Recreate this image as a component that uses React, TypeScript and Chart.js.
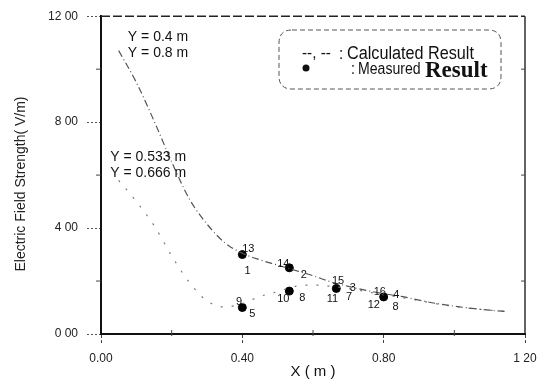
import React, { useEffect, useRef } from "react";
import { Chart, registerables } from "chart.js";

Chart.register(...registerables);

// Calculated curves (x in m, E in V/m)
const calcX = [0.05, 0.10, 0.15, 0.20, 0.25, 0.30, 0.35, 0.40, 0.45, 0.50, 0.55, 0.60, 0.65, 0.70, 0.75, 0.80, 0.85, 0.90, 0.95, 1.00, 1.05, 1.10, 1.15];
const upperY = [10.7, 9.5, 8.05, 6.5, 5.1, 4.15, 3.45, 3.05, 2.8, 2.6, 2.4, 2.2, 1.97, 1.8, 1.65, 1.52, 1.42, 1.28, 1.15, 1.05, 0.97, 0.9, 0.85];
const lowerY = [5.8, 5.0, 4.1, 2.95, 1.95, 1.25, 1.02, 1.15, 1.42, 1.6, 1.8, 1.85, 1.8, 1.72, 1.6, 1.48, 1.38, 1.26, 1.14, 1.04, 0.96, 0.9, 0.85];

// Measured points
const measX = [0.4, 0.533, 0.666, 0.8, 0.4, 0.533];
const measY = [3.0, 2.5, 1.72, 1.4, 1.0, 1.62];

// Point number labels
const labelText = ["13", "1", "14", "2", "10", "8", "9", "5", "15", "11", "3", "7", "16", "12", "4", "8"];
const labelX = [0.417, 0.415, 0.516, 0.574, 0.516, 0.570, 0.391, 0.428, 0.671, 0.655, 0.713, 0.702, 0.789, 0.772, 0.836, 0.834];
const labelY = [3.21, 2.37, 2.65, 2.24, 1.34, 1.37, 1.22, 0.77, 2.0, 1.34, 1.75, 1.40, 1.57, 1.09, 1.46, 1.02];

// Curve annotations
const noteText = ["Y = 0.4 m", "Y = 0.8 m", "Y = 0.533 m", "Y = 0.666 m"];
const noteX = [0.076, 0.076, 0.026, 0.026];
const noteY = [11.21, 10.59, 6.69, 6.09];

// Tick labels
const xTickValues = [0, 0.4, 0.8, 1.2];
const xTickLabels = ["0.00", "0.40", "0.80", "1 20"];
const yTickValues = [0, 4, 8, 12];
const yTickLabels = ["0 00", "4 00", "8 00", "12 00"];

const yTitle = "Electric Field Strength( V/m)";
const xTitle = "X ( m )";

const SANS = "'Liberation Sans', Arial, sans-serif";

const isMajor = (vals: number[], v: number) => vals.some((m) => Math.abs(m - v) < 1e-6);

function condensed(ctx: any, text: string, x: number, y: number, sx: number) {
  ctx.save();
  ctx.translate(x, y);
  ctx.scale(sx, 1);
  ctx.fillText(text, 0, 0);
  ctx.restore();
}

const decorPlugin = {
  id: "decor",
  afterDatasetsDraw(chart: any) {
    const ctx = chart.ctx;
    const { left, right, top, bottom } = chart.chartArea;
    const xs = chart.scales.x;
    const ys = chart.scales.y;
    ctx.save();
    // top border (dashed) and right border
    ctx.strokeStyle = "#222";
    ctx.lineWidth = 1.4;
    ctx.setLineDash([9, 3]);
    ctx.beginPath();
    ctx.moveTo(left, top);
    ctx.lineTo(right, top);
    ctx.stroke();
    ctx.setLineDash([]);
    ctx.beginPath();
    ctx.moveTo(right, top);
    ctx.lineTo(right, bottom);
    ctx.stroke();
    // minor ticks
    ctx.lineWidth = 1;
    ctx.strokeStyle = "#444";
    [2, 6, 10].forEach((v) => {
      const py = ys.getPixelForValue(v);
      ctx.beginPath();
      ctx.moveTo(left - 5, py);
      ctx.lineTo(left, py);
      ctx.stroke();
      ctx.beginPath();
      ctx.moveTo(right - 4, py);
      ctx.lineTo(right, py);
      ctx.stroke();
    });
    [0.2, 0.6, 1.0].forEach((v) => {
      const px = xs.getPixelForValue(v);
      ctx.beginPath();
      ctx.moveTo(px, bottom - 4);
      ctx.lineTo(px, bottom + 2);
      ctx.stroke();
    });
    // point number labels
    ctx.fillStyle = "#111";
    ctx.font = `11px ${SANS}`;
    ctx.textAlign = "center";
    ctx.textBaseline = "middle";
    labelText.forEach((t, i) => {
      ctx.fillText(t, xs.getPixelForValue(labelX[i]), ys.getPixelForValue(labelY[i]));
    });
    // curve annotations
    ctx.font = `14px ${SANS}`;
    ctx.textAlign = "left";
    noteText.forEach((t, i) => {
      ctx.fillText(t, xs.getPixelForValue(noteX[i]), ys.getPixelForValue(noteY[i]));
    });
    // legend box
    const bx = 279, by = 30, bw = 222, bh = 59, r = 13;
    ctx.strokeStyle = "#555";
    ctx.lineWidth = 1;
    ctx.setLineDash([5, 3]);
    ctx.beginPath();
    ctx.moveTo(bx + r, by);
    ctx.lineTo(bx + bw - r, by);
    ctx.quadraticCurveTo(bx + bw, by, bx + bw, by + r);
    ctx.lineTo(bx + bw, by + bh - r);
    ctx.quadraticCurveTo(bx + bw, by + bh, bx + bw - r, by + bh);
    ctx.lineTo(bx + r, by + bh);
    ctx.quadraticCurveTo(bx, by + bh, bx, by + bh - r);
    ctx.lineTo(bx, by + r);
    ctx.quadraticCurveTo(bx, by, bx + r, by);
    ctx.stroke();
    ctx.setLineDash([]);
    ctx.fillStyle = "#111";
    ctx.textBaseline = "middle";
    ctx.font = `17px ${SANS}`;
    condensed(ctx, "--, --", 302, 53, 0.9);
    condensed(ctx, ":", 339, 54, 0.9);
    ctx.font = `18px ${SANS}`;
    condensed(ctx, "Calculated Result", 347, 54, 0.9);
    ctx.beginPath();
    ctx.arc(306, 68, 3.5, 0, Math.PI * 2);
    ctx.fill();
    ctx.font = `16px ${SANS}`;
    condensed(ctx, ":", 351, 70, 0.88);
    condensed(ctx, "Measured", 358, 70, 0.88);
    ctx.font = `bold 23px 'Liberation Serif', 'Times New Roman', serif`;
    ctx.fillText("Result", 425, 71);
    // y axis title
    ctx.save();
    ctx.translate(21, 184);
    ctx.rotate(-Math.PI / 2);
    ctx.textAlign = "center";
    ctx.font = `14px ${SANS}`;
    ctx.fillStyle = "#222";
    ctx.fillText(yTitle, 0, 0);
    ctx.restore();
    ctx.restore();
  },
};

export default function App() {
  const canvasRef = useRef<HTMLCanvasElement | null>(null);

  useEffect(() => {
    document.body.style.margin = "0";
    const canvas = canvasRef.current;
    if (!canvas) return;
    const chart = new Chart(canvas, {
      type: "scatter",
      data: {
        datasets: [
          {
            label: "Y = 0.4 m, 0.8 m",
            data: calcX.map((x, i) => ({ x, y: upperY[i] })),
            showLine: true,
            borderColor: "#555",
            borderWidth: 1.2,
            borderDash: [7, 3, 1, 3],
            pointRadius: 0,
            cubicInterpolationMode: "monotone",
          },
          {
            label: "Y = 0.533 m, 0.666 m",
            data: calcX.map((x, i) => ({ x, y: lowerY[i] })),
            showLine: true,
            borderColor: "#777",
            borderWidth: 1.2,
            borderDash: [2, 9],
            pointRadius: 0,
            cubicInterpolationMode: "monotone",
          },
          {
            label: "Measured",
            data: measX.map((x, i) => ({ x, y: measY[i] })),
            showLine: false,
            pointRadius: 4,
            pointBackgroundColor: "#000",
            pointBorderColor: "#000",
          },
        ],
      },
      options: {
        responsive: false,
        animation: false,
        events: [],
        layout: { padding: { top: 14, right: 20, left: 0, bottom: 0 } },
        plugins: {
          legend: { display: false },
          tooltip: { enabled: false },
        },
        scales: {
          x: {
            type: "linear",
            min: 0,
            max: 1.2,
            afterFit: (s: any) => {
              s.height = 47;
            },
            ticks: {
              stepSize: 0.2,
              autoSkip: false,
              maxRotation: 0,
              padding: 6,
              color: "#222",
              font: { size: 12, family: SANS },
              callback: (v: any) => {
                const i = xTickValues.findIndex((m) => Math.abs(m - Number(v)) < 1e-6);
                return i >= 0 ? xTickLabels[i] : "";
              },
            },
            grid: {
              drawOnChartArea: false,
              drawTicks: true,
              tickLength: 11,
              tickColor: (c: any) => (c.tick && isMajor(xTickValues, c.tick.value) ? "#444" : "rgba(0,0,0,0)"),
              tickBorderDash: [3, 2],
            },
            border: { display: true, color: "#111", width: 2 },
            title: {
              display: true,
              text: xTitle,
              color: "#111",
              font: { size: 15, family: SANS },
              padding: { top: 0, bottom: 0 },
            },
          },
          y: {
            type: "linear",
            min: 0,
            max: 12,
            afterFit: (s: any) => {
              s.width = 101;
            },
            ticks: {
              stepSize: 2,
              autoSkip: false,
              padding: 9,
              color: "#222",
              font: { size: 12, family: SANS },
              callback: (v: any) => {
                const i = yTickValues.findIndex((m) => Math.abs(m - Number(v)) < 1e-6);
                return i >= 0 ? yTickLabels[i] : "";
              },
            },
            grid: {
              drawOnChartArea: false,
              drawTicks: true,
              tickLength: 14,
              tickColor: (c: any) => (c.tick && isMajor(yTickValues, c.tick.value) ? "#555" : "rgba(0,0,0,0)"),
              tickBorderDash: [2, 2],
            },
            border: { display: true, color: "#111", width: 2 },
          },
        },
      },
      plugins: [decorPlugin],
    } as any);
    return () => chart.destroy();
  }, []);

  return (
    <div style={{ width: 545, height: 381, background: "#fff" }}>
      <canvas ref={canvasRef} width={545} height={381} />
    </div>
  );
}
